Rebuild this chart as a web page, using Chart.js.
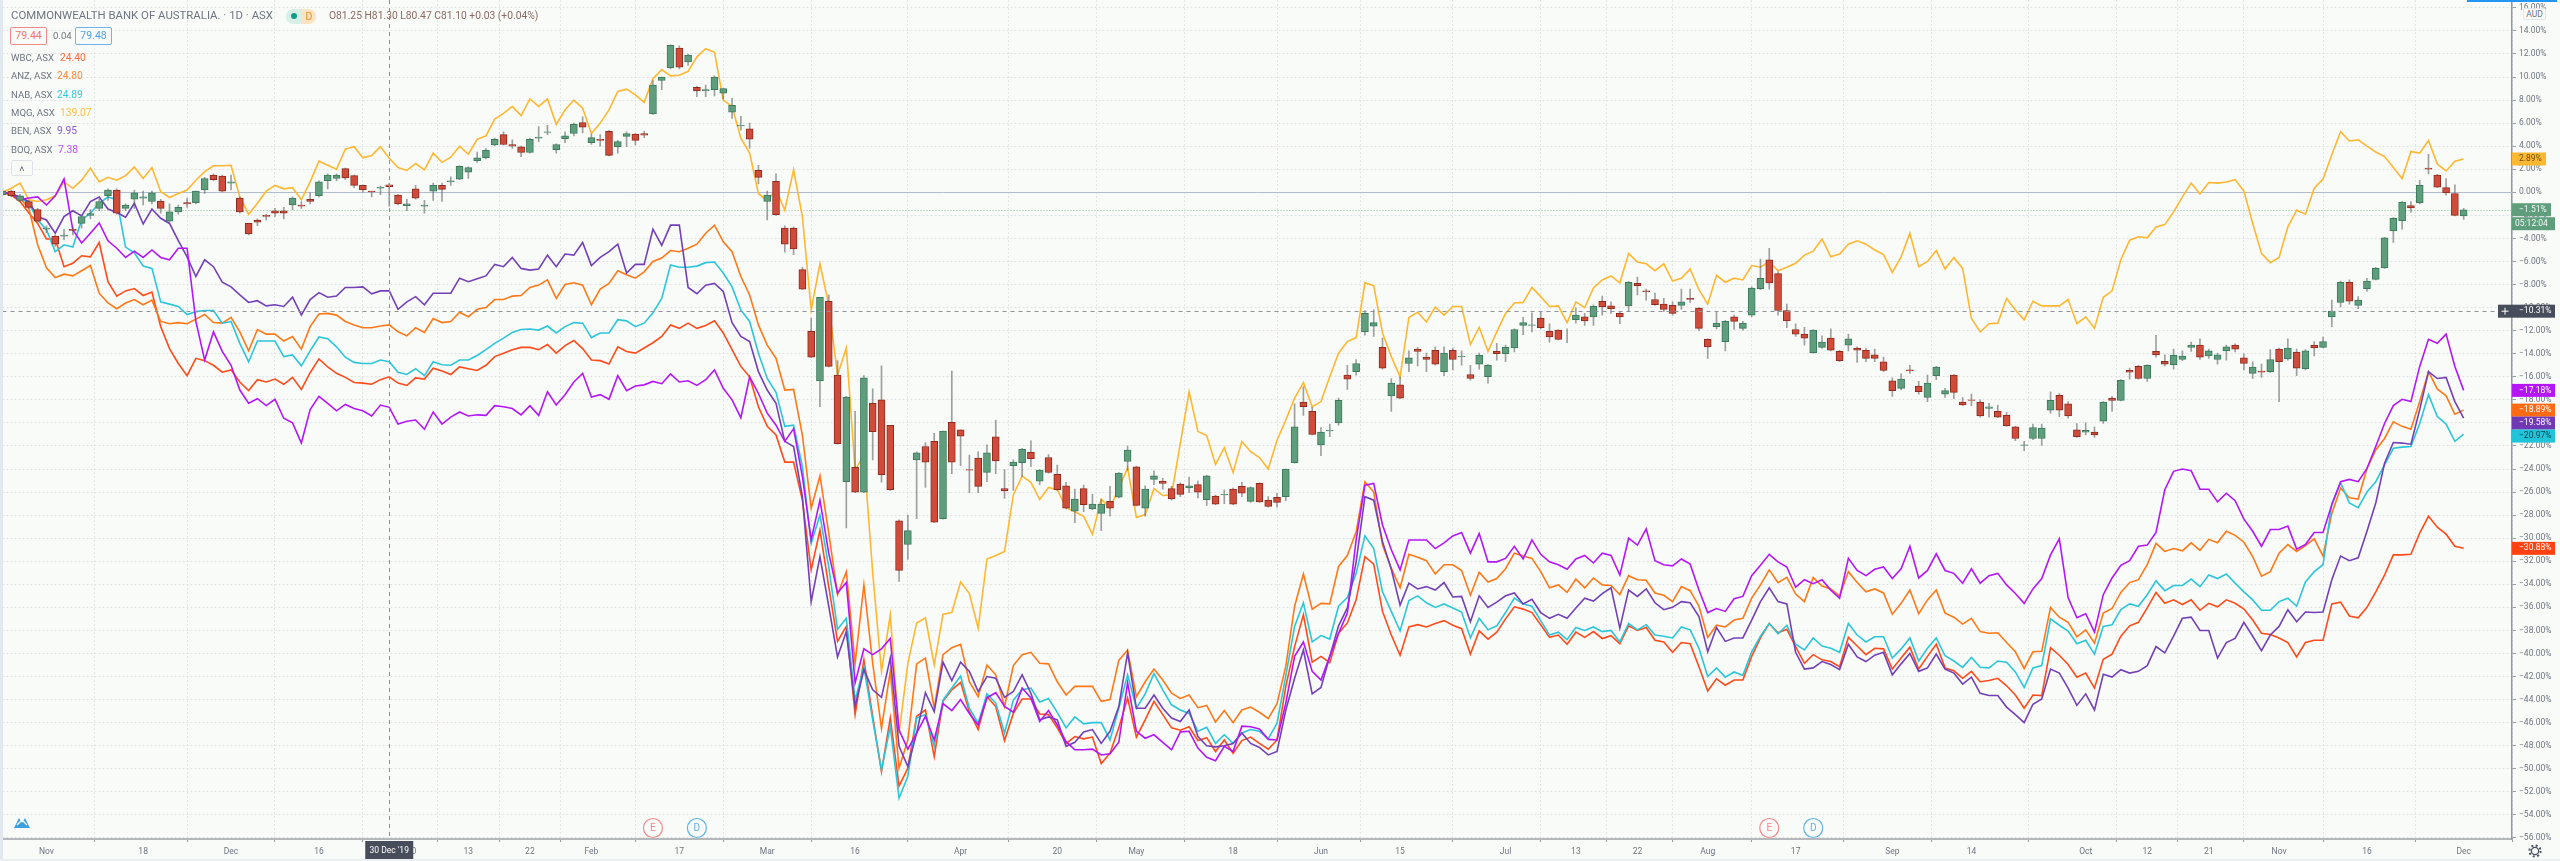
<!DOCTYPE html>
<html>
<head>
<meta charset="utf-8">
<title>CBA vs banks</title>
<script src="https://cdn.jsdelivr.net/npm/chart.js@4/dist/chart.umd.min.js"></script>
<style>
  html, body { margin: 0; padding: 0; background: #f9fbf8; overflow: hidden; }
  #wrap { position: relative; width: 2560px; height: 861px; overflow: hidden; }
  #chart { position: absolute; left: 0; top: 0; }
  .t { position: absolute; font-family: Roboto, sans-serif; font-size: 9.6px; color: #6f7580; white-space: nowrap; line-height: 12px; }
  .box { position: absolute; border-radius: 2px; text-align: center; background: #f9fbf8; font-family: Roboto, sans-serif; font-size: 10.5px; line-height: 15px; box-sizing: border-box; }
</style>
</head>
<body>
<div id="wrap">
  <canvas id="chart" width="2560" height="861"></canvas>

  <div style="position:absolute;left:0;top:0;width:2.5px;height:861px;background:#e3e7ee;"></div>
  <div style="position:absolute;left:0;top:859px;width:2560px;height:2px;background:#eceff1;"></div>

  <div class="t" style="left:11px;top:9px;font-size:11.4px;">COMMONWEALTH BANK OF AUSTRALIA. · 1D · ASX</div>
  <div style="position:absolute;left:286px;top:9px;width:16px;height:15px;background:#d8efe8;border-radius:7px 0 0 7px;"></div>
  <div style="position:absolute;left:291px;top:13px;width:6px;height:6px;background:#0f9d8a;border-radius:50%;"></div>
  <div class="t" style="left:302px;top:9px;width:14px;height:15px;background:#fbe3c4;border-radius:0 7px 7px 0;color:#e8951e;text-align:center;line-height:15px;font-size:10.5px;">D</div>
  <div class="t" style="left:329px;top:10px;color:#8a6a64;font-size:10.3px;">O81.25 H81.30 L80.47 C81.10 +0.03 (+0.04%)</div>

  <div class="box" style="left:10px;top:27px;width:37px;height:18px;border:1px solid #f08a8a;color:#ef7373;">79.44</div>
  <div class="t" style="left:53px;top:30px;">0.04</div>
  <div class="box" style="left:75px;top:27px;width:37px;height:18px;border:1px solid #6fb4ee;color:#4ea3ea;">79.48</div>

  <div class="t" style="left:11px;top:52px;">WBC, ASX</div><div class="t" style="left:60px;top:52px;color:#ff6a3c;font-size:10.3px;">24.40</div>
  <div class="t" style="left:11px;top:70px;">ANZ, ASX</div><div class="t" style="left:57px;top:70px;color:#ff8a3c;font-size:10.3px;">24.80</div>
  <div class="t" style="left:11px;top:89px;">NAB, ASX</div><div class="t" style="left:57px;top:89px;color:#35c8dc;font-size:10.3px;">24.89</div>
  <div class="t" style="left:11px;top:107px;">MQG, ASX</div><div class="t" style="left:60px;top:107px;color:#ffbc40;font-size:10.3px;">139.07</div>
  <div class="t" style="left:11px;top:125px;">BEN, ASX</div><div class="t" style="left:57px;top:125px;color:#8c5cd0;font-size:10.3px;">9.95</div>
  <div class="t" style="left:11px;top:144px;">BOQ, ASX</div><div class="t" style="left:58px;top:144px;color:#c04cff;font-size:10.3px;">7.38</div>
  <div class="box" style="left:11px;top:160px;width:22px;height:16px;border:1px solid #dfe3e8;color:#555;line-height:16px;font-size:9px;">&#708;</div>

  <div style="position:absolute;left:2467px;top:0;width:90px;height:1.5px;background:#2196f3;"></div>
  <div class="box" style="left:2523px;top:8px;width:23px;height:12px;border:1px solid #e2e5e9;color:#6f7580;font-size:8.5px;line-height:10px;">AUD</div>

  <svg style="position:absolute;left:13px;top:813px;" width="18" height="18" viewBox="0 0 18 18"><path d="M1 15 L6 5 L9 10 L12 5 L17 15 Z" fill="#3aa0e0"/><path d="M4 12 L9 7 L14 12" stroke="#f9fbf8" stroke-width="1.4" fill="none"/></svg>
  <svg style="position:absolute;left:2527px;top:843px;" width="16" height="16" viewBox="0 0 16 16"><circle cx="8" cy="8" r="3.6" fill="none" stroke="#4a5060" stroke-width="1.3"/><circle cx="8" cy="8" r="5.6" fill="none" stroke="#4a5060" stroke-width="2" stroke-dasharray="2 2.4"/></svg>
</div>

<script>
const upColor = '#5f9e7d';
const upBorder = '#3b7a5b';
const downColor = '#d04c3a';
const downBorder = '#8e2a1f';

const candleOpen = [
  -0.2,0.1,-0.7,-0.8,-1.5,-3.2,-3.8,-3.8,-3.2,-2.7,
  -2,-1.4,-0.3,0.2,-1.4,-0.6,-0.5,-0.8,-0.75,-2.5,
  -1.7,-0.9,-0.9,0.2,1.5,1.4,0.8,-0.5,-2.7,-2.4,
  -2,-1.6,-1.6,-1.1,-1.1,-0.6,-0.3,1,1.2,2.05,
  1.45,0.6,0.1,0.35,0.65,-0.25,-1.15,0.3,-1.2,0.1,
  0.6,0.9,1.15,1.75,2.75,3,4.1,5,4.15,3.95,
  3.45,4.7,5.2,3.7,4.65,5.1,6.05,4.3,4.6,5.3,
  3.95,4.85,5.05,5.1,6.8,9.7,10.8,12.5,11.3,9.1,
  8.8,8.9,8.6,6.95,5.75,5.5,1.9,-0.8,0.95,-3.1,
  -3.1,-6.7,-12.05,-16.35,-9.45,-15.85,-25.1,-23.85,-26,-18.3,
  -18,-20.2,-28.5,-30.55,-23.2,-22.05,-21.6,-28.3,-19.95,-20.6,
  -24.05,-23.05,-24.3,-21.2,-25.7,-23.7,-23.45,-22.55,-25.05,-23,
  -24.45,-25.45,-27.65,-25.7,-27.45,-27.85,-26.8,-26.45,-23.35,-23.8,
  -27.4,-24.9,-25.05,-25.7,-25.3,-25.65,-25.35,-26.65,-26.35,-26.25,
  -25.75,-25.5,-26.8,-25.25,-26.7,-26.45,-26.4,-23.45,-18.2,-19,
  -21.9,-20.7,-20,-15.85,-15.55,-12.1,-11.6,-13.45,-17.65,-16.7,
  -14.85,-13.6,-14.3,-13.7,-15.55,-13.7,-14.25,-15.8,-14.9,-16,
  -13.8,-14,-13.5,-11.55,-11.55,-10.9,-12.05,-11.95,-12.5,-11.05,
  -10.8,-10.8,-9.45,-9.85,-10.5,-9.85,-7.9,-8.55,-9.3,-9.7,
  -9.8,-9.8,-9.2,-10.05,-12.75,-11.65,-12.95,-10.8,-11.8,-10.65,
  -8.35,-5.85,-7.05,-10.25,-11.9,-12.3,-13.9,-13.45,-12.65,-13.8,
  -13.25,-13.5,-13.7,-14.1,-14.7,-16.35,-17,-15.4,-16.8,-17.8,
  -15.9,-17.5,-15.85,-18.2,-18,-18.2,-18.75,-19,-19.35,-20.35,
  -21.95,-21.35,-21.35,-18.9,-17.6,-18.35,-20.6,-20.8,-20.8,-19.85,
  -17.85,-18.05,-15.45,-15.1,-16.15,-13.8,-14.65,-14.95,-14.5,-13.45,
  -13.25,-14.2,-14.5,-13.75,-13.25,-14.35,-15.7,-15.5,-15.55,-13.6,
  -14.45,-13.85,-15.3,-13.25,-13.45,-10.8,-9.55,-7.8,-9.8,-8.35,
  -7.55,-6.55,-3.35,-2.45,-1.15,-0.9,2.1,1.5,0.4,-0.1,
  -2.05
];
const candleClose = [
  0.1,-0.3,-0.3,-1.3,-2.5,-3.1,-4.5,-3.7,-3.3,-2.1,
  -1.85,-0.8,0.2,-1.8,-1.1,0,-0.4,0,-1.4,-1.7,
  -1.3,-1,0.1,1.2,1.1,0.1,0.9,-1.7,-3.6,-2.6,
  -2.1,-1.8,-1.8,-0.5,-1.2,-0.8,0.9,1.5,1.5,1.25,
  0.6,0.2,0,0.45,0.5,-1,-1,-0.5,-1.1,0.6,
  0.25,1,2.25,2.15,3,3.65,4.6,4.15,4,3.45,
  4.6,4.8,5.25,4.15,4.9,5.9,5.65,4.75,4.5,3.2,
  4.4,5.1,4.5,4.95,9.3,10,12.75,10.85,11.9,8.8,
  8.9,10,9,7.55,5.8,4.6,1.3,-0.25,-1.95,-4.5,
  -4.9,-8.4,-14.3,-9.1,-15.1,-21.8,-17.75,-26,-16.1,-20.75,
  -24.5,-25.8,-32.8,-29.35,-22.6,-23.4,-28.6,-20.7,-23.4,-21.15,
  -24.1,-25.5,-22.6,-23.3,-25.9,-23.4,-22.3,-23.1,-24.1,-24.3,
  -25.8,-27.4,-26.6,-27.1,-27.05,-27.05,-27.4,-24.35,-22.35,-27.15,
  -25.75,-24.6,-25.25,-26.6,-26.2,-25.45,-26,-24.6,-27.05,-26.2,
  -27.05,-26.1,-25.6,-26.85,-27.25,-26.9,-24,-20.35,-18.6,-21,
  -20.8,-20.65,-18.05,-16.2,-14.85,-10.5,-11.3,-15.25,-16.55,-17.85,
  -14.35,-13.8,-14.5,-14.9,-13.95,-14.5,-14.2,-16.15,-14.15,-15,
  -14,-13.45,-11.9,-11.3,-11.5,-11.75,-12.55,-12.75,-12.5,-10.65,
  -11.15,-9.9,-9.95,-10.1,-10.8,-7.8,-8.1,-8.65,-9.75,-10.15,
  -10.5,-9.5,-9.3,-11.8,-13.4,-11.35,-11.2,-11.2,-11.35,-8.3,
  -7.45,-7.85,-10.25,-11.15,-12.3,-12.65,-11.95,-13,-13.7,-14.6,
  -12.7,-13.7,-14.4,-14.4,-15.45,-17.2,-16.2,-15.5,-17.3,-16.55,
  -15.15,-17.2,-17.35,-18.45,-18.05,-19.4,-18.6,-19.5,-20.25,-21.35,
  -21.9,-20.4,-20.45,-18.05,-18.9,-19.4,-21.2,-20.65,-21.05,-18.2,
  -18.05,-16.3,-15.6,-16.15,-15,-14.1,-14.9,-14.15,-14.2,-13.25,
  -14.3,-13.75,-14.1,-13.4,-13.6,-14.85,-15.15,-15.6,-14.5,-14.7,
  -13.5,-15.25,-13.75,-13.5,-12.95,-10.3,-7.8,-9.45,-9.35,-7.7,
  -6.6,-3.95,-2.25,-0.85,-1.35,0.6,2,0.45,-0.05,-2,
  -1.51
];
const candleHigh = [
  0.3,0.2,-0.2,-0.7,-1.4,-2.9,-3.7,-3.2,-3,-2,
  -1.5,-0.6,0.3,0.3,-1,0.2,0.1,0.1,-0.6,-1,
  -1.1,-0.5,0.1,1.3,1.6,1.5,1.5,-0.4,-2.7,-2.3,
  -1.9,-1.4,-1.3,-0.4,-0.8,0,1,1.6,1.6,2.1,
  1.5,0.65,0.1,0.55,0.8,-0.2,-0.6,0.6,-0.7,0.8,
  0.8,1.35,2.3,2.2,3.5,3.8,4.7,5.25,4.55,4,
  4.7,5.7,5.8,4.2,5.25,6,6.55,5.05,5,5.35,
  4.5,5.25,5.1,5.3,9.7,10,12.8,12.7,12,9.2,
  9.3,10.1,9.05,8.15,6.6,6,2.35,0.1,1.6,-2.9,
  -3,-6.5,-10.9,-9.1,-8.9,-14.6,-17.7,-19,-15.9,-17.05,
  -15.05,-20.2,-28.4,-28,-22.5,-21.7,-20.9,-20.7,-15.5,-20.6,
  -22.8,-22.5,-21.9,-19.75,-24.05,-23.2,-22.2,-21.55,-24.05,-22.75,
  -23.65,-25.15,-25.75,-25.4,-26.2,-26.65,-25.5,-24.3,-22,-23.75,
  -25.45,-24.15,-24.8,-25.5,-25.2,-24.7,-25.05,-24.55,-26.25,-25.8,
  -25.65,-25.15,-25.55,-25.2,-26.4,-26.1,-24,-18.35,-16.85,-18.65,
  -20.4,-20.1,-17.85,-15,-14.5,-10.25,-10.2,-12.65,-16.15,-16,
  -13.75,-13.45,-13.95,-13.4,-13.4,-13.5,-13.75,-15,-13.95,-14.95,
  -13.1,-13.25,-11.85,-10.85,-10.45,-10.35,-11.4,-11.9,-11.85,-10.05,
  -10.5,-9.75,-9,-9.5,-10.35,-7.75,-7.35,-8.4,-8.75,-9.2,
  -9.5,-8.4,-8.4,-10,-12.7,-10.4,-11.1,-10.65,-11.2,-8.2,
  -5.8,-4.85,-6.9,-9.7,-11.4,-11.7,-11.9,-12.45,-11.85,-13.7,
  -12.3,-13.4,-13.5,-13.6,-14.3,-16.1,-15.75,-15,-16.4,-15.85,
  -15.1,-17,-15.8,-17.8,-17.5,-18,-18.3,-18.45,-19.1,-20.3,
  -21.6,-20.1,-20.1,-17.3,-17.45,-18.15,-20.05,-20,-20.35,-18.15,
  -17.7,-16.25,-15.25,-15,-14.95,-12.4,-14.1,-13.6,-13.75,-13,
  -12.7,-13.6,-13.95,-13.25,-13.15,-14,-14.7,-14.9,-13.65,-13.5,
  -12.7,-13.6,-13.65,-12.95,-12.55,-9.35,-7.7,-7.6,-9.05,-7.45,
  -6.5,-3.9,-2.2,-0.8,-0.8,1.05,3.3,1.55,1.2,0.65,
  -1.4
];
const candleLow = [
  -0.3,-0.4,-0.8,-1.4,-2.6,-3.5,-4.7,-4.1,-3.7,-3.1,
  -2.3,-1.6,-0.7,-1.9,-1.6,-1.4,-1.1,-1,-1.8,-2.6,
  -1.9,-1.3,-1,-0.1,1,0,0.2,-1.8,-3.7,-2.9,
  -2.4,-2.1,-2.3,-1.5,-1.4,-1,-0.4,0.3,1,1.1,
  0.4,0,-0.4,-0.2,-1.2,-1.1,-1.6,-0.6,-1.8,-0.7,
  -0.8,0.6,1.1,1.2,2.6,2.9,4.05,4.1,3.8,3.1,
  3.4,4.4,5,3.4,4.3,4.9,5.15,4.15,4,3.15,
  3.4,3.95,4.1,4.75,6.75,8.9,10.7,10.7,11,8.3,
  8.3,8.35,8.1,6.4,5.4,3.8,0.75,-2.4,-2,-5.2,
  -5.4,-8.45,-14.35,-18.6,-15.15,-21.85,-29.1,-26.05,-26.05,-23.2,
  -25.15,-25.85,-33.75,-31.85,-28.3,-25.6,-28.65,-28.35,-24.4,-23.7,
  -26.05,-26.05,-25.1,-24.4,-26.55,-25.85,-24.65,-23.8,-25.35,-24.35,
  -25.85,-27.45,-28.65,-27.7,-27.55,-29.35,-28.1,-26.5,-24.1,-27.2,
  -28.1,-25.35,-25.75,-26.7,-26.4,-26.05,-26.5,-27.15,-27.1,-27,
  -27.1,-26.4,-26.9,-26.9,-27.3,-27.3,-26.75,-23.5,-19.35,-21.05,
  -22.85,-21.2,-20.2,-17.1,-15.85,-12.4,-12.5,-15.35,-19,-17.9,
  -15.55,-15.05,-15.55,-15,-15.9,-15.4,-15,-16.3,-15.35,-16.55,
  -14.55,-14.7,-13.85,-12.35,-12.1,-11.85,-13,-12.8,-13.05,-11.35,
  -11.55,-11.55,-10.65,-10.5,-11.4,-10.35,-8.9,-9.35,-9.8,-10.35,
  -10.65,-10.15,-9.55,-12,-14.4,-11.85,-13.75,-11.9,-11.95,-10.8,
  -8.45,-8.4,-10.65,-11.75,-12.5,-13.25,-13.95,-13.55,-13.75,-14.7,
  -13.75,-14.75,-14.7,-14.7,-15.55,-17.7,-17.15,-15.7,-17.5,-18.15,
  -16.25,-17.8,-17.9,-18.5,-18.5,-19.5,-19.5,-19.55,-20.3,-21.55,
  -22.4,-21.45,-21.95,-19.15,-19.45,-19.6,-21.25,-21.05,-21.25,-20.05,
  -19,-18.1,-16.2,-16.2,-16.4,-14.3,-15.05,-15.35,-14.6,-13.8,
  -14.5,-14.4,-14.9,-14.55,-13.85,-15.4,-16.15,-16.05,-15.65,-18.15,
  -14.55,-15.9,-15.4,-14.2,-13.5,-11.65,-9.95,-9.7,-10.1,-8.6,
  -7.6,-6.6,-4.35,-3.2,-1.75,-1,1.6,0.4,-0.25,-2.05,
  -2.35
];

const wbcValues = [
  0,-0.25,-0.8,-1.8,-2.7,-4.05,-4.05,-6.45,-6.15,-5.5,
  -5.6,-4.35,-7.75,-9,-8.55,-8.35,-8.95,-8.65,-11.65,-13.55,
  -14.85,-15.9,-14.4,-14.6,-15,-15.6,-15.4,-16.45,-17.2,-16.25,
  -16.45,-16.2,-16.65,-16.05,-17.1,-15.65,-14.45,-15.15,-15.7,-16.05,
  -16.5,-16.55,-16.65,-16.25,-16,-16.55,-16.75,-16.1,-16.2,-15.25,
  -15.5,-15.8,-15.15,-15.3,-15.45,-15,-14.25,-13.95,-13.65,-13.45,
  -13.45,-13.65,-13.2,-13.95,-13.3,-12.85,-13.55,-14.55,-14.6,-14.9,
  -13.4,-13.8,-13.95,-13.5,-13.05,-12.5,-11.5,-11.8,-11.35,-11.8,
  -11.55,-11.15,-12.2,-13.65,-15.1,-16,-18.6,-20.3,-21.05,-23.4,
  -23.4,-26.7,-32.75,-29.3,-34.2,-38.95,-37.65,-45.3,-40.55,-45.45,
  -50.25,-45.6,-51.5,-49.95,-45.45,-44.9,-48.95,-44.15,-43.15,-42.5,
  -45.05,-46.6,-43.75,-44.6,-47.55,-45.2,-43.95,-43.95,-45.25,-45.3,
  -46.45,-47.8,-47.2,-47.4,-47.25,-49.55,-48.65,-46.45,-43.85,-47.25,
  -45.75,-44.15,-45.3,-46.45,-46.65,-46.35,-47.55,-47.3,-48.5,-47.5,
  -48.65,-47.55,-47.25,-47.8,-48.3,-47.5,-42.85,-39.4,-36.65,-40.75,
  -40.25,-40.8,-38.25,-37.35,-35.35,-31.6,-32.25,-36.35,-38.4,-40.15,
  -37.7,-37.5,-37.7,-37.4,-37.15,-37.55,-37.85,-40.05,-38.05,-38.75,
  -38.15,-37,-35.95,-36.15,-36.45,-37.5,-38.6,-38.4,-39.2,-38.15,
  -38.6,-38.1,-38.7,-38.45,-39.15,-37.6,-38,-37.75,-38.85,-39,
  -39.9,-39.05,-39.15,-41.15,-43.25,-42.2,-42.75,-42.3,-42.3,-40.25,
  -38.65,-37.4,-38.2,-37.9,-39.4,-40.85,-40.1,-40.55,-40.7,-41.15,
  -38.6,-39.35,-40.1,-39.55,-39.6,-41.35,-40.4,-39.45,-41.35,-40.25,
  -39.2,-41.25,-41.5,-42.15,-41.55,-42.45,-42.35,-42.15,-42.8,-43.6,
  -44.75,-43.6,-43.65,-39.5,-40.15,-40.95,-42.05,-41.7,-43,-40.5,
  -40.05,-38.5,-37.6,-37.3,-36.05,-34.7,-35.65,-35.35,-35.75,-35.35,
  -36.25,-35.65,-35.95,-35.35,-35.65,-36.15,-37.1,-38.25,-38.35,-38.65,
  -39.05,-40.3,-39.05,-38.85,-38.85,-35.7,-35.55,-36.75,-36.9,-36,
  -34.65,-33.2,-31.45,-31.45,-31.4,-29.55,-28.1,-29.05,-29.65,-30.7,
  -30.88
];
const anzValues = [
  0,-0.15,-0.5,-1.4,-4.55,-6.55,-7.4,-7.1,-7.25,-6.8,
  -6.35,-8.75,-9.6,-10.1,-9.6,-9.3,-9.75,-9.35,-11.2,-11.4,
  -11.3,-11.4,-11,-10.6,-11.3,-11.35,-10.85,-12.1,-13.75,-11.9,
  -12.3,-12.3,-12.9,-12.5,-13.6,-11.65,-10.55,-10.5,-10.65,-11.2,
  -11.5,-11.75,-11.75,-11.6,-11.5,-12.1,-12.45,-11.75,-12.15,-10.95,
  -11.3,-11.2,-10.4,-10.8,-10.15,-10,-9.3,-9.3,-9,-8.95,
  -8.25,-8.05,-7.6,-9.2,-8,-7.85,-8.05,-9.75,-8.4,-7.9,
  -6.8,-7.15,-7.45,-6.9,-6,-5.7,-5.05,-5.15,-4.85,-4.5,
  -3.55,-2.85,-4.3,-5.15,-7.3,-8.9,-11.5,-13.25,-14.4,-17.15,
  -17.1,-21.05,-27.4,-24.6,-29.55,-34.9,-32.9,-40.85,-34.05,-40.85,
  -46.5,-41.55,-49.95,-47.5,-40.9,-40.4,-44.75,-40.1,-39.5,-39.2,
  -42.45,-43.75,-41,-41.85,-44.6,-41.05,-40.1,-39.9,-40.85,-40.9,
  -42.45,-43.6,-42.85,-42.85,-42.85,-44.15,-44,-40.6,-39.7,-43.75,
  -42.45,-41.35,-42.3,-43.45,-43.9,-43.6,-44.7,-44.5,-45.95,-44.95,
  -46,-44.9,-44.65,-45.1,-45.65,-44.35,-41.1,-35.9,-33.1,-36.15,
  -35.65,-35.7,-32.45,-31.5,-29.45,-25.1,-26,-30.6,-32.6,-34.3,
  -31.4,-31.65,-31.95,-33.1,-32.3,-32.3,-32.8,-34.95,-32.95,-33.8,
  -33.5,-32.65,-31.3,-31.55,-31.75,-32.9,-34.3,-34.05,-34.7,-33.55,
  -34.3,-33.45,-34.05,-34.1,-34.9,-33.25,-33.6,-33.65,-34.75,-34.95,
  -35.5,-34.2,-34.55,-35.9,-38.6,-37.55,-37.7,-37.1,-36.95,-35.2,
  -34.05,-32.75,-33.85,-33.4,-34.85,-35.5,-33.4,-34.15,-34.4,-35,
  -32.9,-33.85,-34.65,-34.4,-34.75,-36.6,-35.65,-34.5,-36.55,-35.35,
  -34.5,-36.5,-36.85,-37.45,-36.95,-38.1,-38.25,-38.2,-39.05,-39.85,
  -41.3,-39.85,-39.8,-36,-36.85,-37.3,-38.55,-37.95,-39.1,-36.5,
  -36.1,-34.7,-33.85,-33.6,-32.3,-30.45,-31.15,-30.9,-31.1,-30.4,
  -31.05,-30.1,-30.4,-29.4,-29.75,-30.35,-31.6,-33.3,-32.9,-31.3,
  -30.55,-31.15,-30.65,-30.05,-31.55,-27.85,-25.65,-26.5,-26.6,-23.95,
  -22.35,-21.35,-19.9,-20.3,-20.55,-18.15,-15.55,-17.05,-17.65,-19.25,
  -18.89
];
const nabValues = [
  0,-0.15,-0.45,-0.95,-2.4,-3.25,-5.15,-4.55,-4.75,-2.4,
  -1.8,-0.95,-0.4,-0.65,-4.75,-5.25,-6.4,-6.6,-9.5,-9.7,
  -9.9,-10.6,-10.35,-10.25,-10.25,-11.35,-11.2,-13.1,-14.7,-12.9,
  -12.9,-12.9,-14.25,-14.1,-15.05,-13.75,-12.55,-12.7,-13.4,-14.3,
  -14.75,-14.85,-14.85,-14.55,-14.7,-15.6,-15.8,-15.3,-15.9,-14.7,
  -14.95,-15,-14.55,-14.55,-14.15,-13.65,-13.1,-12.65,-12.15,-11.9,
  -11.85,-11.95,-11.6,-12.2,-11.65,-11.3,-11.35,-12.6,-12.2,-12.2,
  -11.05,-11.15,-11.65,-11.35,-10.45,-9.2,-6.3,-6.5,-6.5,-6.4,
  -6.1,-6.05,-7,-8.2,-10.2,-11.2,-13.95,-16.15,-17.35,-20.3,
  -20.2,-23.8,-30.45,-28,-32.5,-37.9,-36.95,-44.05,-41.15,-45.75,
  -50.1,-46.35,-52.55,-50.65,-45.6,-45.3,-48.05,-44.05,-43,-41.95,
  -44.75,-46.05,-43.5,-44.3,-46.9,-44.05,-43.15,-43,-44.2,-43.9,
  -45.1,-46.45,-45.5,-46.1,-46,-46,-47.5,-44.75,-41.85,-44.75,
  -43.5,-41.75,-43.15,-44.45,-44.9,-45.2,-46.75,-46.4,-47.8,-47.05,
  -47.8,-46.9,-46.6,-46.75,-47.4,-46.05,-41.95,-37.65,-35.6,-39,
  -38.45,-38.75,-35.9,-35.15,-33.05,-29.8,-30.9,-34.65,-36.35,-38.05,
  -35.4,-35,-35.6,-36,-35.7,-36.05,-36.4,-38.65,-36.95,-37.95,
  -37.6,-36.45,-35.2,-35.7,-35.9,-37.15,-38.4,-38.15,-38.8,-37.75,
  -38,-37.7,-38.1,-38,-39,-37.4,-37.95,-37.5,-38.4,-38.5,
  -38.65,-37.7,-37.95,-39.55,-42,-41.25,-42.05,-41.6,-41.9,-39.85,
  -38.5,-37.4,-38.3,-37.55,-39.2,-39.7,-38.65,-39.35,-39.55,-39.9,
  -37.4,-38.4,-39,-38.55,-38.55,-40.4,-39.6,-38.65,-40.65,-39.55,
  -38.65,-40.2,-40.65,-41.2,-40.35,-41.2,-41.25,-40.65,-40.75,-41.6,
  -42.95,-41.25,-41.05,-37,-37.55,-38.05,-39.15,-38.85,-40.05,-37.65,
  -37.5,-36.2,-35.7,-35.9,-34.9,-33.7,-34.55,-34.1,-34.1,-33.55,
  -34.2,-33.2,-33.5,-33.1,-33.9,-34.65,-35.35,-36.25,-36.25,-35.5,
  -35.2,-35.9,-33.8,-32.9,-32.3,-27,-25.2,-26.95,-27.35,-26,
  -25.1,-23.65,-22.2,-22.1,-22.05,-20.05,-17.55,-19.45,-20.1,-21.6,
  -20.97
];
const mqgValues = [
  0,0.35,0.8,-0.65,-0.8,-0.65,-0.3,0.9,0.35,1.05,
  2.1,0.9,1.3,1.05,1.45,2.2,1.2,2.15,0.05,-0.45,
  -0.1,0.2,1.05,1.8,2.3,2.3,2.35,-0.4,-1.9,-0.95,
  0.1,0.6,0.3,0.4,-0.65,0.9,2.7,2.35,2,3.75,
  3.95,3,3.2,3.95,2.95,2.15,1.9,2.5,1.95,3.4,
  2.6,3.05,4,3.3,4.6,4.9,6.35,6.85,7.45,6.65,
  8.1,7.45,8.1,5.9,7.15,8,7.3,5.1,6,7.15,
  8.75,8.95,8.45,7.8,9.85,10.65,10.1,10.15,10.5,11.75,
  12.45,12.15,8,7.45,4.7,3.4,-0.1,-0.75,0.2,-1.55,
  1.95,-2.1,-10.2,-6.2,-9.75,-15.85,-13.5,-24.1,-22.8,-33,
  -41.55,-36.65,-46.9,-40.85,-37.35,-36.9,-41,-36.6,-36.45,-33.8,
  -34.8,-37.8,-31.8,-31.5,-31.15,-26.25,-24.6,-25.15,-26.65,-25.6,
  -25.8,-27.35,-27.7,-28.1,-29.65,-26.6,-27.4,-25.65,-23.9,-28.2,
  -27.95,-25.7,-26.3,-26.25,-21.75,-17.3,-20.75,-21.1,-23.6,-22.15,
  -24.3,-21.6,-22.5,-23,-24,-21.5,-19.75,-17.85,-16.5,-18.6,
  -18.15,-16,-13.95,-12.95,-12.6,-7.85,-8.1,-12.2,-14.25,-16,
  -10.85,-10.4,-11.25,-9.95,-10.65,-9.9,-9.9,-13.2,-11.7,-13.8,
  -12.1,-10.5,-9.6,-9.55,-8.25,-9.05,-9.9,-9.85,-11.3,-9.5,
  -10,-8.3,-7.6,-7.25,-7.85,-5.3,-6.05,-6.2,-6.8,-6.2,
  -7.7,-7.45,-6.65,-8.45,-9.7,-7.2,-7.8,-7.45,-7.6,-6.35,
  -6.5,-6,-6.8,-6.5,-6.15,-5.45,-5.1,-4.05,-5.6,-5.35,
  -4.5,-4.2,-4.5,-5,-5.4,-6.95,-5.6,-3.55,-6.45,-6,
  -5.05,-6.65,-5.65,-6.6,-10.95,-12.1,-11.4,-11.35,-9.2,-10.2,
  -11.05,-9.45,-9.85,-9.85,-9.85,-9.3,-11.4,-10.8,-11.8,-9.1,
  -8.55,-5.85,-4.15,-3.85,-3.95,-3,-2.8,-1.7,-0.4,0.8,
  -0.15,0.85,0.8,0.9,1.1,0.1,-2.7,-5.3,-6.1,-5.65,
  -3,-1.55,-1.9,0.35,1.15,3.25,5.25,4.45,4.55,4,
  3.5,3.1,2.15,1.2,3.55,3.4,4.5,2.45,1.85,2.7,
  2.89
];
const benValues = [
  0,-0.1,-0.4,-0.8,-2.1,-2.4,-3.55,-2.1,-1.6,-2.05,
  -0.8,-0.4,-1.45,-1.75,-2.15,-0.95,-2.75,-1.45,-2.25,-2.7,
  -4.2,-5.6,-7.3,-5.85,-6.45,-7.8,-8.2,-8.9,-9.55,-9.4,
  -9.85,-9.75,-9.9,-9.1,-10.65,-9.3,-8.7,-9.1,-9,-8.25,
  -8.25,-8.2,-8.8,-8.55,-8.55,-10.15,-9.5,-9.05,-9.75,-8.75,
  -8.75,-8.75,-7.45,-7.75,-7.5,-7.25,-6.25,-6.45,-5.65,-6.6,
  -6.75,-6.65,-5.45,-6.45,-5.35,-5.45,-4.35,-6.35,-5.65,-5.15,
  -4.5,-7,-6.25,-6.25,-3.2,-4.6,-2.85,-2.85,-8.25,-8.8,
  -8.05,-7.9,-8.6,-11.3,-12.5,-12.95,-15.55,-17.15,-18.3,-21.6,
  -22.05,-26.4,-35.5,-31.6,-35.9,-40.3,-38.1,-44.6,-41.4,-43.15,
  -43.8,-40.4,-48.05,-49.8,-46.9,-43.4,-45.05,-40.75,-42.35,-40.75,
  -41.55,-43.3,-42,-42.15,-43.8,-43.3,-41.85,-43.45,-45.75,-45.5,
  -45.75,-48.05,-47.7,-46.8,-46.6,-47.8,-46.75,-44.6,-39.95,-44.75,
  -44.75,-43.6,-44.75,-45.6,-45.9,-44.9,-47.2,-48,-48.1,-48,
  -47.8,-46.9,-47.8,-48.15,-48.8,-48.5,-44.9,-42.15,-39.7,-43.5,
  -42.95,-40.25,-37.6,-36.05,-32.05,-26.4,-26.7,-30.3,-32.7,-35.8,
  -33.9,-34.4,-34.2,-34.5,-33.85,-35.1,-35.05,-37.25,-35,-36,
  -35.55,-35,-34.75,-35.7,-35.3,-36.45,-36.95,-36.6,-36.95,-36.05,
  -35.2,-35.45,-34.8,-34.3,-37.8,-34.5,-35.05,-34.4,-35.6,-36.2,
  -36,-35.5,-35.6,-36.8,-39.85,-37.75,-38.95,-38.65,-38.65,-37.1,
  -35.5,-34.3,-35.5,-35.7,-39.9,-41.35,-41.25,-40.7,-40.95,-41.4,
  -39.2,-40.3,-40.7,-40.15,-39.9,-41.85,-40.9,-40,-41.55,-41.25,
  -40.05,-41.35,-41.7,-42.65,-42.05,-43.45,-43.65,-43.65,-44.65,-45.3,
  -46,-44.4,-43.95,-41.35,-41.7,-43,-44.5,-43.5,-44.9,-41.8,
  -42.05,-41.4,-41.7,-41.55,-41.05,-39.4,-39.95,-38.5,-36.95,-36.85,
  -38,-38,-40.4,-39.05,-38.7,-37.3,-38.5,-39.75,-38.4,-37.65,
  -36.2,-37.25,-36.4,-36.45,-36.4,-33.6,-31.55,-31.95,-31.7,-29.4,
  -26.95,-23.5,-21.7,-21.75,-21.85,-18.85,-15.55,-16.15,-16.05,-18.15,
  -19.58
];
const boqValues = [
  0,-0.15,-0.65,-0.5,-0.4,-1.1,-0.3,1.15,-3.25,-4.4,
  -3.55,-2.65,-4.2,-4.85,-5.65,-5.1,-5.65,-5,-5.65,-5.85,
  -4.85,-4.85,-11.2,-14.55,-12.1,-13.8,-15,-17.15,-18.3,-17.9,
  -18.5,-17.95,-19.6,-20,-21.75,-18.85,-17.7,-18.3,-18.95,-18.4,
  -18.75,-18.95,-19.4,-18.45,-18.65,-20.1,-19.85,-19.75,-20.55,-19.05,
  -20.1,-19.5,-19.05,-19.4,-19.3,-19.35,-18.5,-18.6,-18.75,-19.3,
  -18.5,-19.35,-17.3,-18.45,-17.55,-16.45,-15.7,-17.75,-17.55,-17.95,
  -15.9,-17.2,-16.8,-16.7,-16.4,-16.6,-15.75,-16.45,-16.35,-16.75,
  -16.25,-15.4,-17,-18,-19.55,-16,-17.45,-19.15,-20.2,-21.6,
  -20.5,-24.65,-30.15,-26.7,-31.3,-34.75,-33.85,-42.55,-39.6,-40.1,
  -39.6,-38.7,-46.65,-48.3,-46.9,-45.45,-47.5,-44.35,-44.95,-44,
  -45.2,-46.2,-43.85,-43.4,-44.6,-45.1,-43,-43.85,-45.9,-44.95,
  -46.2,-47.65,-48.35,-48.35,-48.3,-48.8,-48.7,-47.7,-42.55,-46.75,
  -47.35,-47.05,-47.7,-48.35,-46.8,-46.75,-48.2,-49,-49.3,-48.05,
  -48.5,-46.3,-46.35,-46.55,-47.45,-47.5,-44.3,-40.25,-39,-41.55,
  -42.3,-40.25,-38.25,-36.5,-30.15,-25.4,-25.25,-28.85,-31,-32.75,
  -30.15,-30.15,-30.15,-30.9,-30.4,-29.8,-29.5,-31.3,-29.6,-32.05,
  -32.05,-31.75,-30.7,-31.8,-30.15,-31.4,-32.05,-32.3,-32.7,-31.8,
  -31.5,-32.15,-31.3,-31.5,-33.2,-30,-30.6,-29.2,-31.95,-32.3,
  -32.4,-31.8,-32.25,-34.5,-36.45,-36.1,-36.35,-35.25,-35.05,-33.25,
  -32.35,-31.4,-32.05,-32.5,-34.25,-33.6,-33.95,-33.6,-34.5,-35.2,
  -31.75,-32.8,-33.25,-32.7,-32.5,-33.5,-32.65,-30.7,-33.45,-32.8,
  -31.35,-32.8,-33.05,-33.9,-32.65,-33.9,-33.25,-33.05,-34.05,-34.8,
  -35.65,-34.4,-33.5,-31.45,-30.05,-35.15,-36.9,-36.55,-38.15,-34.9,
  -33.45,-32.35,-31.95,-30.7,-30.6,-29.5,-25.8,-24.2,-24,-24.15,
  -25.75,-25.75,-26.85,-26.1,-26.75,-28.35,-29.4,-30.7,-29.25,-29.25,
  -28.95,-30.95,-30.55,-29.5,-29.5,-27.1,-25.1,-24.9,-25.1,-23.95,
  -22.05,-20.05,-18.5,-17.95,-18.15,-15.1,-12.75,-13.1,-12.3,-15.1,
  -17.18
];

const yTickValues = [16,14,12,10,8,6,4,2,0,-2,-4,-6,-8,-10,-12,-14,-16,-18,-20,-22,-24,-26,-28,-30,-32,-34,-36,-38,-40,-42,-44,-46,-48,-50,-52,-54,-56];
const xTickIndexes = [5,16,26,36,46,53,60,67,77,87,97,109,120,129,140,150,159,171,179,186,194,204,215,224,237,244,251,259,269,280];
const xTickLabels = ['Nov','18','Dec','16','2020','13','22','Feb','17','Mar','16','Apr','20','May','18','Jun','15','Jul','13','22','Aug','17','Sep','14','Oct','12','21','Nov','16','Dec'];

const crosshairIndex = 44;
const crosshairValue = -10.31;
const crosshairDate = "30 Dec '19";
const lastPriceValue = -1.51;
const countdown = '05:12:04';
const markerIndexes = [74,79,201,206];
const markerLetters = ['E','D','E','D'];

const lineSeries = [
  { name: 'BOQ', values: boqValues, color: '#b416f7', order: 2 },
  { name: 'BEN', values: benValues, color: '#7340b8', order: 3 },
  { name: 'MQG', values: mqgValues, color: '#ffb731', order: 4 },
  { name: 'NAB', values: nabValues, color: '#2cc6da', order: 5 },
  { name: 'ANZ', values: anzValues, color: '#ff7817', order: 6 },
  { name: 'WBC', values: wbcValues, color: '#ff4b19', order: 7 }
];

const priceTags = [
  { text: '2.89%', value: 2.89, shift: 0, color: '#ffb731', textColor: '#6b5210', width: 34 },
  { text: '\u22121.51%', value: -1.51, shift: 0, color: upColor, textColor: '#f4f8f5', width: 39 },
  { text: countdown, value: -1.51, shift: 14, color: upColor, textColor: '#f4f8f5', width: 43 },
  { text: '\u221210.31%', value: -10.31, shift: 0, color: '#474d5a', textColor: '#ffffff', width: 43 },
  { text: '\u221217.18%', value: -17.18, shift: 0, color: '#b416f7', textColor: '#ffffff', width: 43 },
  { text: '\u221218.89%', value: -18.89, shift: 0, color: '#ff6a12', textColor: '#ffffff', width: 43 },
  { text: '\u221219.58%', value: -19.58, shift: 5, color: '#6f38b4', textColor: '#ffffff', width: 43 },
  { text: '\u221220.97%', value: -20.97, shift: 2, color: '#20c4d8', textColor: '#0b4450', width: 43 },
  { text: '\u221230.88%', value: -30.88, shift: 0, color: '#ff4210', textColor: '#ffffff', width: 43 }
];

function formatPercent(value) {
  return (value < 0 ? '\u2212' : '') + Math.abs(value).toFixed(2) + '%';
}

const isUp = candleOpen.map((open, i) => candleClose[i] >= open);

const overlayPlugin = {
  id: 'overlay',
  beforeDatasetsDraw(chart) {
    const { ctx, chartArea, scales } = chart;
    const y0 = Math.round(scales.y.getPixelForValue(0)) + 0.5;
    const yPrice = Math.round(scales.y.getPixelForValue(lastPriceValue)) + 0.5;
    ctx.save();
    ctx.strokeStyle = '#b3bccd';
    ctx.lineWidth = 1;
    ctx.beginPath();
    ctx.moveTo(chartArea.left, y0);
    ctx.lineTo(chartArea.right, y0);
    ctx.stroke();
    ctx.strokeStyle = '#8fbf94';
    ctx.setLineDash([1, 2]);
    ctx.beginPath();
    ctx.moveTo(chartArea.left, yPrice);
    ctx.lineTo(chartArea.right, yPrice);
    ctx.stroke();
    ctx.restore();
  },
  afterDatasetsDraw(chart) {
    const { ctx, chartArea, scales } = chart;
    const cx = Math.round(scales.x.getPixelForValue(crosshairIndex)) + 0.5;
    const cy = Math.round(scales.y.getPixelForValue(crosshairValue)) + 0.5;
    ctx.save();
    ctx.strokeStyle = '#8d919a';
    ctx.lineWidth = 1;
    ctx.setLineDash([4, 4]);
    ctx.beginPath();
    ctx.moveTo(chartArea.left, cy);
    ctx.lineTo(chartArea.right, cy);
    ctx.moveTo(cx, chartArea.top);
    ctx.lineTo(cx, chartArea.bottom);
    ctx.stroke();
    ctx.setLineDash([]);

    markerIndexes.forEach((index, i) => {
      const px = scales.x.getPixelForValue(index);
      const py = 828;
      const color = markerLetters[i] === 'E' ? '#f28a8a' : '#5db4e8';
      ctx.beginPath();
      ctx.arc(px, py, 9.5, 0, Math.PI * 2);
      ctx.fillStyle = '#f9fbf8';
      ctx.fill();
      ctx.strokeStyle = color;
      ctx.lineWidth = 1.2;
      ctx.stroke();
      ctx.fillStyle = color;
      ctx.font = '10px Roboto';
      ctx.textAlign = 'center';
      ctx.textBaseline = 'middle';
      ctx.fillText(markerLetters[i], px, py);
    });
    ctx.restore();
  },
  afterDraw(chart) {
    const { ctx, chartArea, scales } = chart;
    ctx.save();
    ctx.font = '8.5px Roboto';
    ctx.textBaseline = 'middle';
    priceTags.forEach(tag => {
      const py = scales.y.getPixelForValue(tag.value) + tag.shift;
      ctx.fillStyle = tag.color;
      ctx.fillRect(chartArea.right, py - 6.5, tag.width, 13);
      ctx.fillStyle = tag.textColor;
      ctx.textAlign = 'left';
      ctx.fillText(tag.text, chartArea.right + (tag.text === countdown ? 3 : 7), py);
    });

    // crosshair plus button and date box
    const cy = scales.y.getPixelForValue(crosshairValue);
    ctx.fillStyle = '#474d5a';
    ctx.fillRect(chartArea.right - 14, cy - 6.5, 14, 13);
    ctx.strokeStyle = '#ffffff';
    ctx.lineWidth = 1;
    ctx.beginPath();
    ctx.moveTo(chartArea.right - 10.5, cy);
    ctx.lineTo(chartArea.right - 3.5, cy);
    ctx.moveTo(chartArea.right - 7, cy - 3.5);
    ctx.lineTo(chartArea.right - 7, cy + 3.5);
    ctx.stroke();

    const cx = scales.x.getPixelForValue(crosshairIndex);
    ctx.fillStyle = '#474d5a';
    ctx.fillRect(cx - 24, chartArea.bottom + 2, 48, 19);
    ctx.fillStyle = '#ffffff';
    ctx.textAlign = 'center';
    ctx.fillText(crosshairDate, cx, chartArea.bottom + 12);
    ctx.restore();
  }
};

new Chart(document.getElementById('chart'), {
  type: 'bar',
  data: {
    datasets: [
      {
        label: 'CBA body',
        data: candleOpen.map((open, i) => ({ x: i, y: [open, candleClose[i]] })),
        backgroundColor: isUp.map(up => (up ? upColor : downColor)),
        borderColor: isUp.map(up => (up ? upBorder : downBorder)),
        borderWidth: 1,
        borderSkipped: false,
        barThickness: 7,
        grouped: false,
        order: 0
      },
      {
        label: 'CBA wick',
        data: candleLow.map((low, i) => ({ x: i, y: [low, candleHigh[i]] })),
        backgroundColor: 'rgba(95,100,100,0.6)',
        borderWidth: 0,
        barThickness: 1,
        grouped: false,
        order: 1
      },
      ...lineSeries.map(series => ({
        type: 'line',
        label: series.name,
        data: series.values.map((value, i) => ({ x: i, y: value })),
        borderColor: series.color,
        borderWidth: 1.6,
        pointRadius: 0,
        tension: 0,
        fill: false,
        order: series.order
      }))
    ]
  },
  options: {
    responsive: false,
    animation: false,
    events: [],
    layout: { padding: { left: 2.5, right: 0, top: 0, bottom: 0 } },
    plugins: { legend: { display: false }, tooltip: { enabled: false } },
    scales: {
      x: {
        type: 'linear',
        min: 0,
        max: 285.5,
        offset: false,
        afterFit: scale => { scale.height = 22; scale.paddingLeft = 0; scale.paddingRight = 0; },
        afterBuildTicks: scale => { scale.ticks = xTickIndexes.map(value => ({ value })); },
        grid: { color: '#e2e6e5', tickColor: '#9aa0a8', tickLength: 3 },
        border: { color: '#b4b8bd', width: 2, dash: [2, 2] },
        ticks: {
          autoSkip: false,
          maxRotation: 0,
          padding: 5,
          color: '#6f7580',
          font: { family: 'Roboto', size: 8.5 },
          callback: value => xTickLabels[xTickIndexes.indexOf(value)]
        }
      },
      y: {
        position: 'right',
        min: -56.09,
        max: 16.68,
        afterFit: scale => { scale.width = 48; scale.paddingTop = 0; scale.paddingBottom = 0; },
        afterBuildTicks: scale => { scale.ticks = yTickValues.map(value => ({ value })); },
        grid: { color: '#dfe2e3', tickColor: '#9aa0a8', tickLength: 4 },
        border: { color: '#92989f', width: 1.5, dash: [2, 2] },
        ticks: {
          autoSkip: false,
          padding: 3,
          color: '#6f7580',
          font: { family: 'Roboto', size: 8.5 },
          callback: formatPercent
        }
      }
    }
  },
  plugins: [overlayPlugin, {
    id: 'paper',
    beforeDraw(chart) {
      const { ctx, width, height } = chart;
      ctx.save();
      ctx.fillStyle = '#f9fbf8';
      ctx.fillRect(0, 0, width, height);
      ctx.restore();
    }
  }]
});
</script>
</body>
</html>
